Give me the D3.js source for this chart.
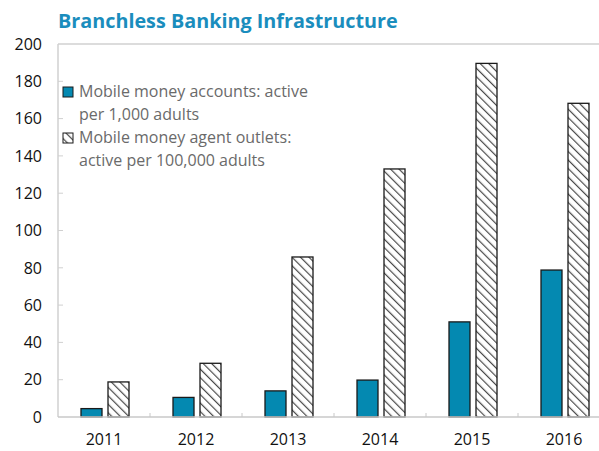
<!DOCTYPE html>
<html>
<head>
<meta charset="utf-8">
<script src="https://cdn.jsdelivr.net/npm/d3@7"></script>
<style>
  html, body { margin: 0; padding: 0; background: #fff; }
  svg { display: block; font-family: "Open Sans", "Noto Sans", sans-serif; }
</style>
</head>
<body>
<svg id="chart" width="599" height="451"></svg>
<script>
// Branchless banking infrastructure, 2011-2016
const years = ["2011", "2012", "2013", "2014", "2015", "2016"];
const accountsPer1000 = [4.5, 10.5, 14, 19.8, 51, 78.8];
const outletsPer100k = [18.8, 28.8, 85.8, 133, 189.6, 168.2];
const yTicks = [0, 20, 40, 60, 80, 100, 120, 140, 160, 180, 200];
const seriesNames = [
  ["Mobile money accounts: active", "per 1,000 adults"],
  ["Mobile money agent outlets:", "active per 100,000 adults"]
];

const teal = "#0489b1";
const svg = d3.select("#chart");

const margin = { left: 58, top: 44, bottom: 417 };
const band = 92;
const x = d3.scaleBand().domain(years).range([margin.left, margin.left + band * years.length]).paddingInner(0).paddingOuter(0);
const y = d3.scaleLinear().domain([0, 200]).range([margin.bottom, margin.top]);

// hatch pattern for the outlets series (lines running down to the right)
const defs = svg.append("defs");
const pat = defs.append("pattern")
  .attr("id", "hatch").attr("patternUnits", "userSpaceOnUse")
  .attr("width", 6).attr("height", 6)
  .attr("patternTransform", "rotate(-45)");
pat.append("rect").attr("width", 6).attr("height", 6).attr("fill", "#fff");
pat.append("line").attr("x1", 0).attr("y1", 0).attr("x2", 0).attr("y2", 6)
  .attr("stroke", "#4a4a4a").attr("stroke-width", 2.4);

// title
svg.append("text")
  .attr("x", 58).attr("y", 28)
  .attr("fill", "#1a8dbd").attr("font-weight", "bold").attr("font-size", 19.8)
  .text("Branchless Banking Infrastructure");

// frame: top border and left axis
const x0 = margin.left, x1 = 599;
svg.append("line").attr("x1", x0).attr("x2", x1).attr("y1", y(200)).attr("y2", y(200))
  .attr("stroke", "#d0d0d0").attr("stroke-width", 1.5);
svg.append("line").attr("x1", x0).attr("x2", x0).attr("y1", y(200)).attr("y2", y(0))
  .attr("stroke", "#d0d0d0").attr("stroke-width", 1.5);

// y ticks and labels
const yg = svg.append("g");
yTicks.forEach(t => {
  if (t > 0 && t < 200) {
    yg.append("line").attr("x1", x0).attr("x2", x0 + 5).attr("y1", y(t)).attr("y2", y(t))
      .attr("stroke", "#d0d0d0").attr("stroke-width", 1);
  }
  yg.append("text").attr("x", 42).attr("y", y(t)).attr("dy", "0.36em")
    .attr("text-anchor", "end").attr("font-size", 16).attr("fill", "#111").text(t);
});

// bars
const barW = 21, gap = 6, pad = 23;
const groups = svg.append("g").selectAll("g").data(years).join("g");
groups.append("rect")
  .attr("x", (d) => x(d) + pad)
  .attr("y", (d, i) => y(accountsPer1000[i]))
  .attr("width", barW)
  .attr("height", (d, i) => y(0) - y(accountsPer1000[i]))
  .attr("fill", teal).attr("stroke", "#1a1a1a").attr("stroke-width", 1.3);
groups.append("rect")
  .attr("x", (d) => x(d) + pad + barW + gap)
  .attr("y", (d, i) => y(outletsPer100k[i]))
  .attr("width", barW)
  .attr("height", (d, i) => y(0) - y(outletsPer100k[i]))
  .attr("fill", "url(#hatch)").attr("stroke", "#1a1a1a").attr("stroke-width", 1.3);

// x axis baseline, category separators, labels
svg.append("line").attr("x1", x0).attr("x2", x1).attr("y1", y(0)).attr("y2", y(0))
  .attr("stroke", "#c8c8c8").attr("stroke-width", 1.5);
years.slice(1).forEach(yr => {
  svg.append("line").attr("x1", x(yr)).attr("x2", x(yr)).attr("y1", y(0) - 4).attr("y2", y(0))
    .attr("stroke", "#c8c8c8").attr("stroke-width", 1);
});
years.forEach(yr => {
  svg.append("text").attr("x", x(yr) + band / 2).attr("y", 445)
    .attr("text-anchor", "middle").attr("font-size", 16).attr("fill", "#111").text(yr);
});

// legend
const lg = svg.append("g");
lg.append("rect").attr("x", 63).attr("y", 87).attr("width", 10).attr("height", 10)
  .attr("fill", teal).attr("stroke", "#1a1a1a").attr("stroke-width", 1);
lg.append("rect").attr("x", 63).attr("y", 133).attr("width", 10).attr("height", 10)
  .attr("fill", "url(#hatch)").attr("stroke", "#1a1a1a").attr("stroke-width", 1);
const lines = [seriesNames[0][0], seriesNames[0][1], seriesNames[1][0], seriesNames[1][1]];
const baselines = [97, 120, 143, 166];
lines.forEach((t, i) => {
  lg.append("text").attr("x", 79).attr("y", baselines[i])
    .attr("font-size", 16).attr("fill", "#6a6a6a").text(t);
});
</script>
</body>
</html>
